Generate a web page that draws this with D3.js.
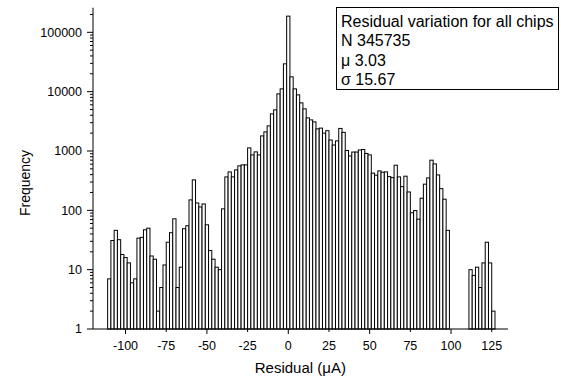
<!DOCTYPE html>
<html>
<head>
<meta charset="utf-8">
<script src="https://cdn.jsdelivr.net/npm/d3@7"></script>
<style>
  body { margin: 0; background: #fff; }
  svg text { font-family: "Liberation Sans", Arial, sans-serif; fill: #000; }
</style>
</head>
<body>
<svg id="chart" width="561" height="380"></svg>
<script>
// bin centres (2 uA wide) and their counts
const mainBins = d3.range(-110, 100, 2);
const mainCounts = [
  7, 31, 46, 32, 18, 16, 13, 6, 7, 34,
  35, 47, 50, 17, 15, 2, 5, 12, 29, 42,
  72, 5, 11, 49, 55, 150, 326, 133, 114, 128,
  57, 21, 15, 11, 10, 106, 366, 444, 366, 480,
  561, 583, 583, 1128, 859, 966, 859, 1797, 2100, 2650,
  4224, 4934, 9180, 11140, 29440, 187500, 17780, 11140, 8830, 6470,
  5130, 3614, 3343, 3095, 2360, 2430, 2000, 2200, 1530, 1260,
  1480, 2400, 2060, 1020, 825, 960, 960, 1040, 1060, 910,
  860, 423, 391, 462, 439, 444, 370, 356, 576, 366,
  251, 376, 204, 91, 99, 71, 160, 276, 352, 700,
  606, 395, 232, 154, 46
];
const tailBins = [112, 114, 116, 118, 120, 122, 124, 126];
const tailCounts = [10, 8, 11, 5, 13, 29, 13, 2];

const xTicks = [-100, -75, -50, -25, 0, 25, 50, 75, 100, 125];
const yTicks = [1, 10, 100, 1000, 10000, 100000];
const legendLines = ["Residual variation for all chips", "N 345735", "\u03bc 3.03", "\u03c3 15.67"];

const binWidth = 2;
const data = mainBins.map((b, i) => ({ bin: b, count: mainCounts[i] }))
  .concat(tailBins.map((b, i) => ({ bin: b, count: tailCounts[i] })));

const svg = d3.select("#chart");

const xScale = d3.scaleLinear().domain([-120, 135]).range([93, 508]);
const yScale = d3.scaleLog().domain([1, 260000]).range([329, 7.7]);

// bars
svg.append("g").selectAll("rect").data(data).join("rect")
  .attr("x", d => xScale(d.bin - binWidth / 2))
  .attr("width", xScale(binWidth) - xScale(0))
  .attr("y", d => yScale(d.count))
  .attr("height", d => yScale(1) - yScale(d.count))
  .attr("fill", "white").attr("stroke", "black").attr("stroke-width", 1);

// x axis, multiples of 50 get a longer tick
const xAxis = svg.append("g").attr("transform", `translate(0,${yScale(1)})`);
xAxis.append("line").attr("x1", 93).attr("x2", 508).attr("stroke", "black");
xAxis.selectAll(".xt").data(xTicks).join("line").attr("class", "xt")
  .attr("x1", d => xScale(d)).attr("x2", d => xScale(d))
  .attr("y1", 0).attr("y2", d => d % 50 === 0 ? 5 : 3).attr("stroke", "black");
xAxis.selectAll(".xl").data(xTicks).join("text").attr("class", "xl")
  .attr("x", d => xScale(d)).attr("y", 21)
  .attr("text-anchor", "middle").style("font-size", "12.5px")
  .text(d => d);

// y axis with log minor ticks
const yMinor = [];
yTicks.forEach(t => d3.range(2, 10).forEach(m => { if (t * m <= 260000) yMinor.push(t * m); }));
const yAxis = svg.append("g").attr("transform", "translate(93,0)");
yAxis.append("line").attr("y1", 7.7).attr("y2", 329).attr("stroke", "black");
yAxis.selectAll(".ym").data(yMinor).join("line").attr("class", "ym")
  .attr("x1", -3).attr("x2", 0)
  .attr("y1", d => yScale(d)).attr("y2", d => yScale(d)).attr("stroke", "black");
yAxis.selectAll(".yt").data(yTicks).join("line").attr("class", "yt")
  .attr("x1", -6).attr("x2", 0)
  .attr("y1", d => yScale(d)).attr("y2", d => yScale(d)).attr("stroke", "black");
yAxis.selectAll(".yl").data(yTicks).join("text").attr("class", "yl")
  .attr("x", -11).attr("y", d => yScale(d)).attr("dy", "0.35em")
  .attr("text-anchor", "end").style("font-size", "12.5px")
  .text(d => d);

// axis titles
svg.append("text").attr("x", xScale(0) + 12).attr("y", 373)
  .attr("text-anchor", "middle").style("font-size", "15px")
  .text("Residual (\u03bcA)");
svg.append("text").attr("transform", "translate(30,183) rotate(-90)")
  .attr("text-anchor", "middle").style("font-size", "14px")
  .text("Frequency");

// legend box
const legend = svg.append("g");
legend.append("rect").attr("x", 336.5).attr("y", 7.5).attr("width", 222).attr("height", 82)
  .attr("fill", "white").attr("stroke", "black");
legend.selectAll("text").data(legendLines).join("text")
  .attr("x", 341).attr("y", (d, i) => 27 + i * 19.3)
  .style("font-size", "16px")
  .text(d => d);
</script>
</body>
</html>
